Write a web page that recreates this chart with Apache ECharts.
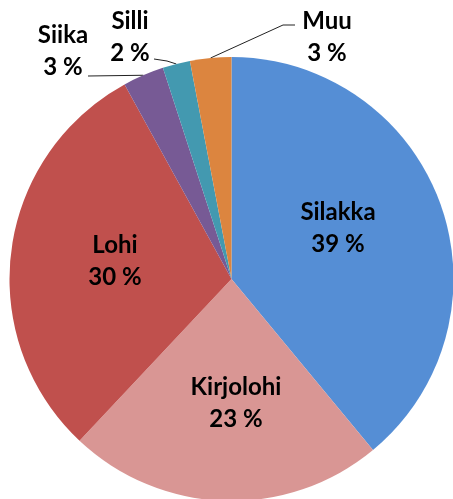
<!DOCTYPE html>
<html>
<head>
<meta charset="utf-8">
<script src="https://cdn.jsdelivr.net/npm/echarts@6/dist/echarts.min.js"></script>
<style>
  html, body { margin: 0; padding: 0; background: #ffffff; }
  #chart { width: 453px; height: 499px; }
</style>
</head>
<body>
<div id="chart"></div>
<script>
// Catch species and their share of the total (%)
const species = ['Silakka', 'Kirjolohi', 'Lohi', 'Siika', 'Silli', 'Muu'];
const shares = [39, 23, 30, 3, 2, 3];
const sliceColors = ['#558ED5', '#D99694', '#C0504D', '#775A95', '#4399B0', '#DC853F'];

// Small slices get their label outside with a leader line
const outsideLabels = ['Siika', 'Silli', 'Muu'];

// Where each label block is centred
const labelCentres = {
  Silakka: [338, 228],
  Kirjolohi: [236, 403],
  Lohi: [115, 261],
  Siika: [63, 51],
  Silli: [130, 37],
  Muu: [327, 37]
};
// Leader line bend and end points for the outside labels
const leaderPaths = {
  Siika: [[88, 76], [88, 76]],
  Silli: [[167, 61], [154, 59]],
  Muu: [[283, 25], [295, 25]]
};

const chart = echarts.init(document.getElementById('chart'), null, { renderer: 'canvas' });

const seriesData = species.map((name, i) => {
  const outside = outsideLabels.includes(name);
  return {
    name: name,
    value: shares[i],
    itemStyle: { color: sliceColors[i] },
    label: { position: outside ? 'outside' : 'inside' },
    labelLine: { show: outside }
  };
});

chart.setOption({
  animation: false,
  backgroundColor: '#ffffff',
  series: [{
    type: 'pie',
    center: [231.5, 279],
    radius: [0, 222],
    startAngle: 90,
    clockwise: true,
    avoidLabelOverlap: false,
    data: seriesData,
    itemStyle: { borderWidth: 0 },
    emphasis: { disabled: true },
    label: {
      show: true,
      formatter: '{b}\n{c} %',
      fontFamily: 'Lato',
      fontWeight: 'bold',
      fontSize: 24,
      lineHeight: 32,
      color: '#000000',
      align: 'center'
    },
    labelLine: {
      lineStyle: { color: '#222222', width: 1 }
    },
    labelLayout: function (params) {
      const name = species[params.dataIndex];
      const c = labelCentres[name];
      const layout = { x: c[0], y: c[1], align: 'center', verticalAlign: 'middle' };
      if (leaderPaths[name] && params.labelLinePoints) {
        const edge = params.labelLinePoints[0];
        layout.labelLinePoints = [edge].concat(leaderPaths[name]);
      }
      return layout;
    }
  }]
});
</script>
</body>
</html>
